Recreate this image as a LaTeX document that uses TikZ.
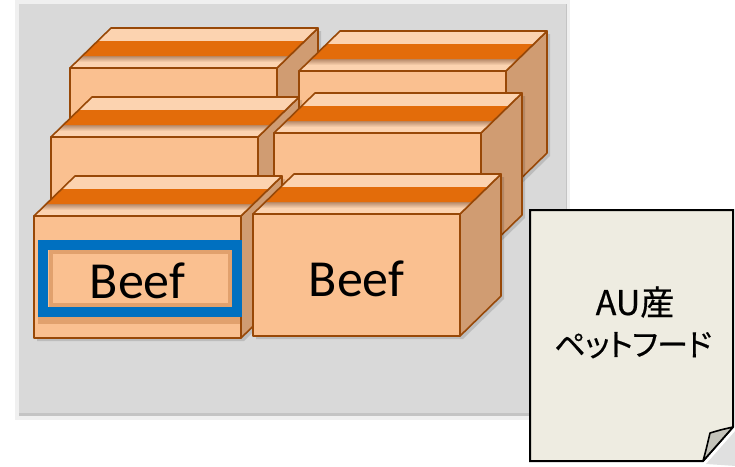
\documentclass[tikz,border=0pt]{standalone}
\usepackage{fontspec}
\newfontfamily\beeffont{Carlito}
\newfontfamily\jpfont[RawFeature=+palt, FakeBold=0.5]{Noto Sans CJK JP}
\newfontfamily\jpkana[RawFeature=+palt, FakeBold=0.5, LetterSpace=-2]{Noto Sans CJK JP}
\definecolor{panelgray}{HTML}{D9D9D9}
\definecolor{panelrim}{HTML}{F0F0F0}
\definecolor{panelshade}{HTML}{C4C4C4}
\definecolor{cratefront}{HTML}{FAC090}
\definecolor{cratetop}{HTML}{FCD3B0}
\definecolor{crateside}{HTML}{D09C72}
\definecolor{crateline}{HTML}{984807}
\definecolor{tape}{HTML}{E36C0A}
\definecolor{tapeshade}{HTML}{B68A6A}
\definecolor{labelblue}{HTML}{0070C0}
\definecolor{notepaper}{HTML}{EEECE1}
\definecolor{notefold}{HTML}{C4C3BA}

\tikzset{
  cratepart/.style={draw=crateline, line width=1.6pt, line join=round},
  beeftext/.style={font=\beeffont\fontsize{52}{60}\selectfont, text=black, inner sep=0pt},
  notetext/.style={text=black, inner sep=0pt},
}

% A carton: front face 207 x 122, receding 41 right / 40 up; #1 names its front centre
\newcommand\crate[3]{%
  \begin{scope}[shift={(#2,#3)}]
    \fill[black, opacity=0.13] (3,3) -- (44,-37) -- (251,-37) -- (251,85) -- (210,125) -- (3,125) -- cycle;
    \path[cratepart, fill=crateside] (207,0) -- (248,-40) -- (248,82) -- (207,122) -- cycle;
    \fill[cratetop] (0,0) -- (41,-40) -- (248,-40) -- (207,0) -- cycle;
    \shade[top color=tapeshade, bottom color=cratetop] (6.15,-6) -- (213.15,-6) -- (219.3,-12) -- (12.3,-12) -- cycle;
    \fill[tape] (12.3,-12) -- (219.3,-12) -- (234.7,-27) -- (27.7,-27) -- cycle;
    \path[cratepart] (0,0) -- (41,-40) -- (248,-40) -- (207,0) -- cycle;
    \path[cratepart, fill=cratefront] (0,0) rectangle (207,122);
    \coordinate (#1) at (103.5,61);
  \end{scope}}

\begin{document}
\begin{tikzpicture}[x=1pt, y=-1pt]
  \useasboundingbox (0,0) rectangle (735,466);
  \fill[white] (0,0) rectangle (735,466);

  % grey panel behind the cartons
  \fill[panelrim] (15,0) rectangle (570,420);
  \fill[panelshade] (19,4) rectangle (567,416);
  \fill[panelgray] (19,4) rectangle (566,413);

  % back row
  \crate{A}{70}{68}
  \crate{B}{299}{71}
  % middle row
  \crate{C}{51}{137}
  \crate{D}{274}{133}
  % front row
  \crate{E}{34}{216}
  % framed label on the front-left carton
  \fill[crateline, opacity=0.25] (38,317) rectangle (242,324);
  \draw[crateline, opacity=0.25, line width=4pt] (50.5,251.5) rectangle (229.5,305);
  \draw[labelblue, line width=10pt] (43,244.5) rectangle (237,312);
  \node[beeftext, anchor=base] (beefE) at ([yshift=-21pt]E) {Beef};
  \crate{F}{253}{214}
  \node[beeftext, anchor=base] (beefF) at ([yshift=-21pt]F) {Beef};

  % dog-eared note
  \fill[black, opacity=0.12] (706,464) -- (736,430) -- (736,466) -- cycle;
  \path[draw=black, line width=2pt, fill=notepaper, line join=miter]
    (530,210) -- (733,210) -- (733,427) -- (703,461) -- (530,461) -- cycle;
  \path[draw=black, line width=1.6pt, fill=notefold, line join=round]
    (703,461) .. controls (706,450) .. (710,433) .. controls (720,430) .. (733,427) -- cycle;
  \node[notetext, anchor=base, font=\jpfont\fontsize{34}{40}\selectfont] (origin) at (635,315) {AU産};
  \node[notetext, anchor=base, font=\jpkana\fontsize{31}{38}\selectfont] (product) at (633,356) {ペットフード};
\end{tikzpicture}
\end{document}
